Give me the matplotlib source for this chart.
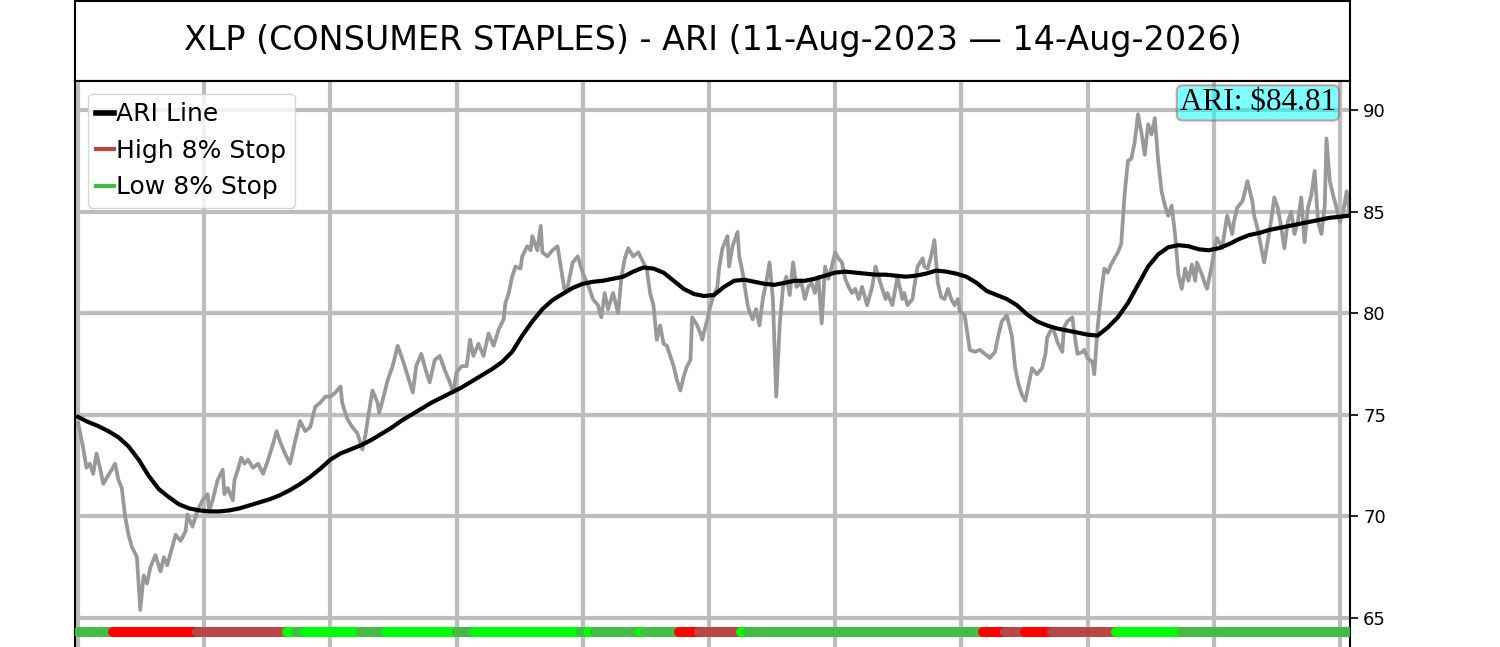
import matplotlib
matplotlib.use("Agg")
import matplotlib.pyplot as plt
from matplotlib.lines import Line2D
import numpy as np

ticker = "XLP (CONSUMER STAPLES)"
start_label = "11-Aug-2023"
end_label = "14-Aug-2026"
ari_last = 84.81

# closing prices, trading-day index from start_label
price_day = [
    0, 3, 5, 7, 9, 11, 13, 15, 17, 20, 22, 24, 26, 28, 30, 32, 35, 37, 39, 41,
    43, 46, 49, 51, 53, 56, 58, 61, 64, 65, 68, 71, 74, 77, 78, 80, 83, 86, 87, 89,
    92, 93, 95, 97, 99, 101, 104, 107, 110, 113, 116, 118, 120, 123, 126, 129, 132, 135, 138, 141,
    144, 147,
    150, 153, 156, 157, 160, 163, 166, 169, 171, 173, 175, 178, 179, 181, 184, 187, 190, 193,
    196, 199, 201, 204, 207, 209, 212, 215, 218, 221, 223, 225, 228, 231, 233, 235, 238, 241,
    244, 247, 250, 253, 254, 256, 258, 260, 263, 264, 267, 269, 270, 273, 275, 276, 279, 282,
    285, 288, 289, 291, 294, 297, 300,
    301, 304, 306, 309, 311, 313, 315, 318, 321, 323, 325, 327, 330, 333, 336, 338, 340, 342,
    344, 346, 348, 350, 352, 354, 356, 358, 360, 362, 364, 365, 368, 370, 371, 374, 376, 377,
    380, 381, 383, 386, 387, 389, 392, 393, 395, 398, 399, 401, 403, 405, 407, 409, 411, 413,
    415, 417, 419, 421, 423, 425, 427, 430, 432, 434, 436, 438, 440, 442, 444, 446, 448, 450,
    452, 454, 456, 458, 460, 462, 464, 466, 468, 469, 472, 474, 475, 478, 480, 481, 484, 486,
    487, 490, 491, 493, 496, 497, 499, 502, 503, 505, 507, 509, 511, 513, 515, 517, 519, 521,
    523,
    524, 527, 530, 533, 536, 539, 542, 545, 547, 549, 552, 555, 557, 559, 561, 563, 565, 567,
    569, 570, 573, 575, 576, 579, 581, 582, 585, 586, 588, 591, 592, 594, 597, 598, 600, 603,
    604, 606, 608, 610, 612, 614, 616, 618, 620, 622, 624, 626, 628, 630, 632, 634, 636, 638,
    640, 642, 644, 646, 648, 650, 652, 654, 656, 658, 660, 662, 664, 665, 668, 670, 671, 674,
    676, 677, 680, 682, 683, 686, 687, 689, 692, 693, 695, 698, 699, 701, 704, 705, 707, 709,
    711, 713, 715, 717, 719, 721, 723, 725, 727, 729, 731, 733, 735, 737, 739, 741, 742, 744,
    746, 748, 750, 752, 754, 756,
]
price_close = [
    74.6, 73.4, 72.4, 72.6, 72.1, 73.1, 72.4, 71.6, 71.9, 72.3, 72.6, 71.8, 71.4, 70.0, 69.1, 68.5, 68.0, 65.4, 67.1, 66.7,
    67.5, 68.1, 67.3, 68.0, 67.6, 68.5, 69.1, 68.8, 69.3, 70.1, 69.5, 70.3, 70.8, 71.1, 70.3, 70.8, 71.8, 72.3, 71.1, 71.4,
    70.8, 71.8, 72.3, 72.9, 72.6, 72.8, 72.4, 72.6, 72.1, 72.8, 73.6, 74.2, 73.7, 73.1, 72.6, 73.7, 74.7, 74.2, 74.4, 75.4,
    75.6, 75.9,
    75.9, 76.1, 76.4, 75.6, 74.8, 74.4, 74.1, 73.3, 74.1, 75.2, 76.2, 75.6, 75.1, 75.7, 76.7, 77.4, 78.4, 77.7,
    76.9, 76.1, 77.4, 78.0, 77.1, 76.6, 77.7, 77.9, 77.2, 76.6, 76.1, 77.1, 77.4, 77.4, 78.7, 77.9, 78.5, 77.9,
    79.0, 78.4, 79.2, 79.7, 80.5, 81.0, 81.8, 82.3, 82.2, 82.8, 83.3, 83.1, 83.8, 83.1, 84.3, 83.0, 82.8, 83.1,
    83.3, 81.7, 81.2, 81.3, 82.5, 82.8, 82.0,
    81.8, 81.2, 80.7, 80.4, 79.8, 81.0, 80.2, 81.0, 80.0, 81.8, 82.7, 83.2, 82.8, 83.0, 82.5, 82.2, 81.0, 80.4,
    78.7, 79.4, 78.5, 78.4, 77.9, 77.4, 76.7, 76.2, 76.9, 77.4, 77.7, 79.8, 79.4, 79.0, 78.7, 79.7, 80.4, 80.7,
    81.3, 82.2, 83.2, 83.8, 82.3, 83.3, 84.0, 82.8, 82.0, 80.4, 80.1, 79.7, 80.2, 79.4, 80.7, 81.5, 82.5, 80.7,
    75.9, 79.4, 81.3, 81.8, 80.9, 82.5, 81.3, 81.5, 80.7, 81.3, 81.5, 81.0, 81.8, 79.5, 82.3, 81.7, 82.3, 83.0,
    82.7, 82.5, 81.7, 81.3, 81.0, 81.2, 80.7, 81.3, 80.7, 80.4, 81.3, 82.3, 82.0, 81.2, 80.7, 81.0, 80.4, 81.3,
    81.8, 80.7, 81.0, 80.4, 80.7, 81.3, 82.3, 82.7, 82.3, 82.2, 82.8, 83.6, 81.5, 80.8, 80.7, 81.2, 80.7, 80.4,
    80.7,
    80.1, 79.9, 78.2, 78.1, 78.2, 78.0, 77.8, 78.1, 78.9, 79.6, 79.9, 78.9, 77.3, 76.5, 76.0, 75.7, 76.5, 77.3,
    77.1, 77.0, 77.3, 78.0, 78.8, 79.3, 78.9, 78.6, 78.1, 79.3, 79.6, 79.8, 79.1, 78.0, 78.1, 78.2, 77.8, 77.6,
    77.0, 79.3, 80.9, 82.2, 82.0, 82.4, 82.7, 83.0, 83.4, 85.8, 87.5, 87.6, 88.4, 89.8, 88.9, 87.8, 89.3, 88.8,
    89.6, 87.5, 86.0, 85.3, 84.8, 85.3, 83.9, 81.9, 81.2, 82.2, 81.6, 82.4, 81.6, 82.5, 81.9, 81.4, 81.2, 82.4,
    83.4, 83.7, 83.2, 84.3, 84.8, 83.9, 84.5, 85.2, 85.5, 85.8, 86.5, 85.5, 84.8, 84.2, 82.9, 82.5, 83.5, 84.5,
    85.7, 85.2, 84.3, 83.2, 84.5, 85.0, 83.9, 84.5, 85.7, 83.5, 85.2, 85.8, 87.0, 84.5, 83.9, 85.3, 88.6, 86.5,
    85.8, 85.2, 84.5, 85.0, 86.0, 84.8,
]

# ARI line, one value every 6 trading days
ari_step = 6
ari_line = [
    74.9, 74.65, 74.45, 74.2, 73.9, 73.45, 72.8, 72.0, 71.35, 70.95,
    70.6, 70.4, 70.3, 70.25, 70.25, 70.3, 70.4, 70.55, 70.7, 70.85,
    71.05, 71.3, 71.6, 71.95, 72.35, 72.8, 73.1, 73.3, 73.5, 73.75,
    74.05, 74.35, 74.7, 75.0, 75.3, 75.6, 75.85, 76.1, 76.35, 76.65,
    76.95, 77.25, 77.6, 78.1, 78.9, 79.6, 80.2, 80.65, 80.95, 81.25,
    81.45, 81.55, 81.6, 81.7, 81.8, 82.05, 82.25, 82.2, 82.0, 81.6,
    81.2, 80.95, 80.85, 80.9, 81.3, 81.6, 81.65, 81.55, 81.45, 81.4,
    81.5, 81.6, 81.6, 81.7, 81.85, 82.0, 82.05, 82.0, 81.95, 81.9,
    81.9, 81.85, 81.8, 81.85, 81.95, 82.1, 82.05, 81.95, 81.8, 81.5,
    81.1, 80.9, 80.7, 80.4, 79.95, 79.6, 79.4, 79.25, 79.15, 79.05,
    78.95, 78.9, 79.3, 79.8, 80.5, 81.4, 82.3, 82.9, 83.25, 83.35,
    83.3, 83.15, 83.1, 83.2, 83.4, 83.65, 83.85, 83.95, 84.1, 84.2,
    84.3, 84.4, 84.5, 84.6, 84.7, 84.75, 84.81,
]

# stop state strip: day each state starts
stop_start = [0, 21, 71, 124, 130, 135, 168, 183, 225, 236, 299, 303, 307, 334, 337,
              357, 369, 394, 398, 538, 551, 563, 579, 617, 656]
stop_state = ["low", "high_hit", "high", "low_hit", "low", "low_hit", "low", "low_hit",
              "low", "low_hit", "low", "low_hit", "low", "low_hit", "low", "high_hit",
              "high", "low_hit", "low", "high_hit", "high", "high_hit", "high", "low_hit", "low"]
stop_last_day = 756
stop_colors = {"low": "#44bb44", "low_hit": "#00ff00", "high": "#bb4444", "high_hit": "#ff0000"}

W, H = 1500, 647
fig = plt.figure(figsize=(W / 100, H / 100), dpi=100)

left, right = 75 / W, 1350 / W
top_main = 1 - 81 / H
bottom_main = 1 - 700 / H

# title box
tax = fig.add_axes([left, top_main, right - left, 1 - top_main - 0.5 / H])
tax.set_xticks([])
tax.set_yticks([])
for s in tax.spines.values():
    s.set_linewidth(1.5)
tax.text(0.5, 0.5, f"{ticker} - ARI ({start_label} \u2014 {end_label})",
         ha="center", va="center", fontsize=24, transform=tax.transAxes)

ax = fig.add_axes([left, bottom_main, right - left, top_main - bottom_main])

grid_kw = dict(color="#bdbdbd", linewidth=3, zorder=0.5)
for d in range(0, 751, 75):
    ax.axvline(d, **grid_kw)
for v in range(60, 91, 5):
    ax.axhline(v, **grid_kw)

ax.plot(price_day, price_close, color="#999999", linewidth=2.7, zorder=2)
ari_days = np.arange(len(ari_line)) * ari_step
ax.plot(ari_days, ari_line, color="black", linewidth=3, zorder=3)

stop_end = stop_start[1:] + [stop_last_day]
strip_y = 64.31
for s0, s1, st in zip(stop_start, stop_end, stop_state):
    ax.plot([s0, s1], [strip_y, strip_y], color=stop_colors[st], linewidth=7.2,
            solid_capstyle="round", zorder=4)

ax.set_xlim(-1.8, 756)
ax.set_ylim(60.97, 91.43)
ax.set_xticks(range(0, 751, 75))
ax.set_xticklabels([])
ax.yaxis.tick_right()
ax.set_yticks(range(65, 91, 5))
ax.tick_params(axis="y", labelsize=13, length=6, width=1.2)
for s in ax.spines.values():
    s.set_linewidth(1.5)

handles = [
    Line2D([], [], color="black", linewidth=4),
    Line2D([], [], color=stop_colors["high"], linewidth=3),
    Line2D([], [], color=stop_colors["low"], linewidth=3),
]
ax.legend(handles, ["ARI Line", "High 8% Stop", "Low 8% Stop"], loc="upper left",
          fontsize=18, handlelength=0.7, handletextpad=0.1, borderpad=0.35,
          labelspacing=0.5)

ax.text(0.989, 0.988, f"ARI: ${ari_last:.2f}", transform=ax.transAxes, ha="right", va="top",
        fontsize=22.5, family="Liberation Serif", zorder=6,
        bbox=dict(boxstyle="round,pad=0.1,rounding_size=0.2", facecolor="#00ffff",
                  alpha=0.5, edgecolor="#bb4444", linewidth=1.5))

fig.savefig("out.png", dpi=100)
